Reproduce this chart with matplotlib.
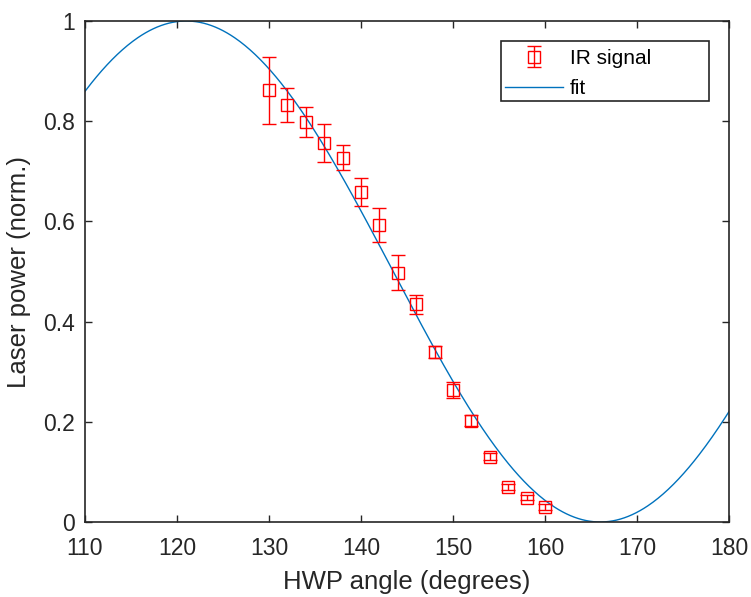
import numpy as np
import matplotlib
matplotlib.use("Agg")
import matplotlib.pyplot as plt
from matplotlib.patches import Rectangle

# Data
hwp_angle = [130, 132, 134, 136, 138, 140, 142, 144, 146, 148, 150, 152, 154, 156, 158, 160]
ir_signal = [0.862, 0.832, 0.798, 0.756, 0.727, 0.659, 0.592, 0.498, 0.435, 0.340, 0.264, 0.202, 0.130, 0.070, 0.048, 0.030]
ir_err = [0.067, 0.034, 0.030, 0.038, 0.025, 0.028, 0.034, 0.034, 0.019, 0.012, 0.016, 0.011, 0.007, 0.006, 0.005, 0.006]

# Fit parameters: P = A * cos^2(2*(theta - theta0)) + offset
fit_amp = 1.0
fit_theta0 = 121.0
fit_offset = 0.0

xticks = [110, 120, 130, 140, 150, 160, 170, 180]
yticks = [0, 0.2, 0.4, 0.6, 0.8, 1]
yticklabels = ["0", "0.2", "0.4", "0.6", "0.8", "1"]

plt.rcParams['font.family'] = ['Liberation Sans', 'DejaVu Sans']
dark = '#262626'

fig = plt.figure(figsize=(7.51, 5.97), dpi=100)
ax = fig.add_axes([85/751, 1-522/597, (729-85)/751, (522-21)/597])

theta = np.linspace(110, 180, 500)
fit = fit_amp * np.cos(np.deg2rad(2 * (theta - fit_theta0)))**2 + fit_offset

eb = ax.errorbar(hwp_angle, ir_signal, yerr=ir_err, fmt='s', color='#FF0000',
                 mfc='none', mec='#FF0000', ms=9, mew=1.0, elinewidth=1.0,
                 capsize=5, capthick=1.0, label='IR signal', zorder=3)
ln, = ax.plot(theta, fit, color='#0072BD', lw=1.0, label='fit', zorder=2)

ax.set_xlim(110, 180)
ax.set_ylim(0, 1)
ax.set_xticks(xticks)
ax.set_yticks(yticks)
ax.set_yticklabels(yticklabels)
ax.tick_params(direction='in', top=True, right=True, length=5, width=1,
               colors=dark, labelsize=16.5)
ax.tick_params(axis='x', pad=11)
ax.tick_params(axis='y', pad=7)
for s in ax.spines.values():
    s.set_color(dark)
    s.set_linewidth(1.2)

ax.set_xlabel('HWP angle (degrees)', fontsize=18.5, color=dark, labelpad=7)
ax.set_ylabel('Laser power (norm.)', fontsize=18.5, color=dark, labelpad=9)

leg = ax.legend([eb, ln], ['IR signal', 'fit'], loc='upper left',
                bbox_to_anchor=(505/751, 1-49/597),
                bbox_transform=fig.transFigure, fontsize=15, frameon=False,
                borderpad=0, handlelength=2.8, handletextpad=0.3,
                labelspacing=0.55, borderaxespad=0)
for t in leg.get_texts():
    t.set_color('black')

fig.patches.append(Rectangle((501/751, 1-101/597), 208/751, 60/597,
                             transform=fig.transFigure, fill=False,
                             edgecolor=dark, linewidth=1.2, zorder=5))

fig.savefig('out.png', dpi=100)
